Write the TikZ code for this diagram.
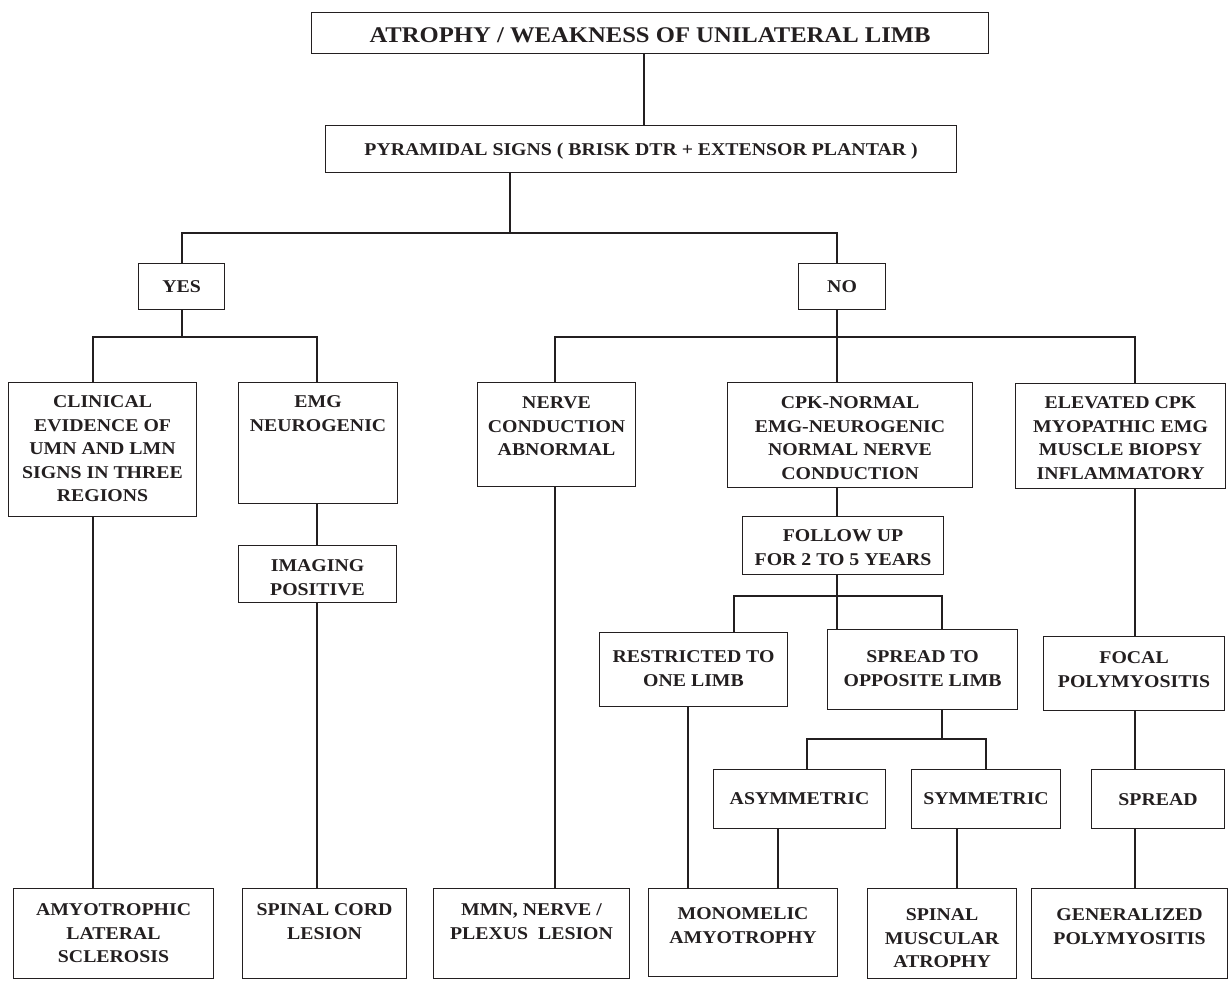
\documentclass[tikz,border=0pt]{standalone}
\usepackage{fontspec}
\setmainfont{Liberation Serif}[FakeStretch=1.1]
\usepackage{tikz}
\definecolor{ChartInk}{HTML}{231F20}

\newcommand{\chartfont}{\bfseries\fontsize{18}{23.5}\selectfont}
\newcommand{\headfont}{\bfseries\fontsize{22.4}{26}\selectfont}
% box body: width, height, first baseline below the top edge, lines
\newcommand{\btext}[4]{%
  \begin{minipage}[c][#2pt][t]{#1pt}\centering
    \vspace*{\dimexpr#3pt-\ht\strutbox\relax}\strut#4%
  \end{minipage}}

\begin{document}
\begin{tikzpicture}[x=1pt,y=-1pt,
    box/.style={draw=ChartInk,line width=1.1pt,inner sep=0pt,
      anchor=north west,text=ChartInk,font=\chartfont},
    link/.style={draw=ChartInk,line width=1.1pt}]
  \useasboundingbox (0,0) rectangle (1229,980);

  % question
  \node[box,font=\headfont] (title) at (311,12)
      {\btext{677}{41}{30}{ATROPHY / WEAKNESS OF UNILATERAL LIMB}};
  \node[box] (pyr) at (325,125)
      {\btext{631}{47}{30}{PYRAMIDAL SIGNS ( BRISK DTR + EXTENSOR PLANTAR )}};
  \node[box] (yes) at (138,263) {\btext{86}{46}{29}{YES}};
  \node[box] (no) at (798,263) {\btext{87}{46}{29}{NO}};

  % yes branch
  \node[box] (clin) at (8,382)
      {\btext{188}{134}{25}{CLINICAL\\EVIDENCE OF\\UMN AND LMN\\SIGNS IN THREE\\REGIONS}};
  \node[box] (emg) at (238,382) {\btext{159}{121}{25}{EMG\\NEUROGENIC}};
  \node[box] (img) at (238,545) {\btext{158}{57}{26}{IMAGING\\POSITIVE}};

  % no branch
  \node[box] (nerve) at (477,382)
      {\btext{158}{104}{26}{NERVE\\CONDUCTION\\ABNORMAL}};
  \node[box] (cpk) at (727,382)
      {\btext{245}{105}{26}{CPK-NORMAL\\EMG-NEUROGENIC\\NORMAL NERVE\\CONDUCTION}};
  \node[box] (elev) at (1015,383)
      {\btext{210}{105}{25}{ELEVATED CPK\\MYOPATHIC EMG\\MUSCLE BIOPSY\\INFLAMMATORY}};
  \node[box] (follow) at (742,516)
      {\btext{201}{58}{25}{FOLLOW UP\\FOR 2 TO 5 YEARS}};
  \node[box] (restr) at (599,632) {\btext{188}{74}{30}{RESTRICTED TO\\ONE LIMB}};
  \node[box] (spreadto) at (827,629)
      {\btext{190}{80}{33}{SPREAD TO\\OPPOSITE LIMB}};
  \node[box] (focal) at (1043,636) {\btext{181}{74}{27}{FOCAL\\POLYMYOSITIS}};
  \node[box] (asym) at (713,769) {\btext{172}{59}{35}{ASYMMETRIC}};
  \node[box] (sym) at (911,769) {\btext{149}{59}{35}{SYMMETRIC}};
  \node[box] (spread) at (1091,769) {\btext{133}{59}{36}{SPREAD}};

  % diagnoses
  \node[box] (als) at (13,888)
      {\btext{200}{90}{27}{AMYOTROPHIC\\LATERAL\\SCLEROSIS}};
  \node[box] (cord) at (242,888) {\btext{164}{90}{27}{SPINAL CORD\\LESION}};
  \node[box] (mmn) at (433,888)
      {\btext{196}{90}{27}{MMN, NERVE /\\PLEXUS\ \ LESION}};
  \node[box] (mono) at (648,888) {\btext{189}{88}{31}{MONOMELIC\\AMYOTROPHY}};
  \node[box] (sma) at (867,888) {\btext{149}{90}{32}{SPINAL\\MUSCULAR\\ATROPHY}};
  \node[box] (gen) at (1031,888)
      {\btext{196}{90}{32}{GENERALIZED\\POLYMYOSITIS}};

  % forks
  \coordinate (fork) at (510,233);
  \coordinate (yfork) at (182,337);
  \coordinate (nfork) at (837,337);
  \coordinate (ffork) at (837,596);
  \coordinate (sfork) at (942,739);

  \draw[link] (title.south -| 644,0) -- (pyr.north -| 644,0);
  \draw[link] (pyr.south -| fork) -- (fork);
  \draw[link] (yes.north -| yfork) |- (fork) -| (no.north -| nfork);

  \draw[link] (yes.south -| yfork) -- (yfork);
  \draw[link] (clin.north -| 93,0) |- (yfork) -| (emg.north -| 317,0);
  \draw[link] (clin.south -| 93,0) -- (als.north -| 93,0);
  \draw[link] (emg.south -| 317,0) -- (img.north -| 317,0);
  \draw[link] (img.south -| 317,0) -- (cord.north -| 317,0);

  \draw[link] (no.south -| nfork) -- (nfork) -- (cpk.north -| nfork);
  \draw[link] (nerve.north -| 555,0) |- (nfork) -| (elev.north -| 1135,0);
  \draw[link] (nerve.south -| 555,0) -- (mmn.north -| 555,0);
  \draw[link] (cpk.south -| nfork) -- (follow.north -| nfork);
  \draw[link] (follow.south -| ffork) -- (ffork) -- (spreadto.north -| ffork);
  \draw[link] (restr.north -| 734,0) |- (ffork) -| (spreadto.north -| 942,0);
  \draw[link] (restr.south -| 688,0) -- (mono.north -| 688,0);
  \draw[link] (spreadto.south -| sfork) -- (sfork);
  \draw[link] (asym.north -| 807,0) |- (sfork) -| (sym.north -| 986,0);
  \draw[link] (asym.south -| 778,0) -- (mono.north -| 778,0);
  \draw[link] (sym.south -| 957,0) -- (sma.north -| 957,0);

  \draw[link] (elev.south -| 1135,0) -- (focal.north -| 1135,0);
  \draw[link] (focal.south -| 1135,0) -- (spread.north -| 1135,0);
  \draw[link] (spread.south -| 1135,0) -- (gen.north -| 1135,0);
\end{tikzpicture}
\end{document}
